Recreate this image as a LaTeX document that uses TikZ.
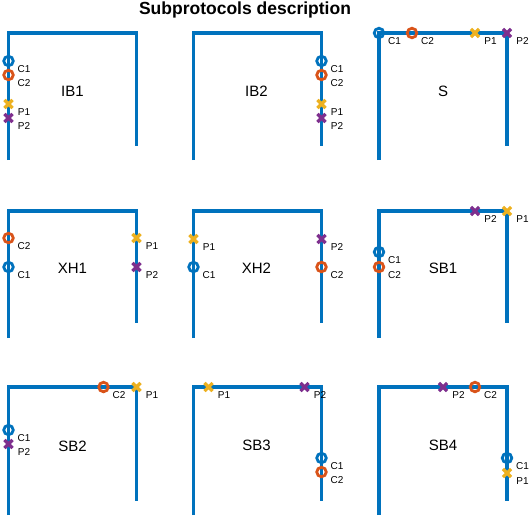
\documentclass[tikz,border=0pt]{standalone}
\usepackage{fontspec}
\setmainfont{Liberation Sans}
\usetikzlibrary{shapes.misc}

\definecolor{mblue}{RGB}{0,114,189}
\definecolor{morange}{RGB}{217,83,25}
\definecolor{myellow}{RGB}{237,177,32}
\definecolor{mpurple}{RGB}{126,47,142}

\tikzset{
  track/.style={draw=mblue, line width=3.2pt, line join=miter},
  ring/.style={circle, draw=#1, line width=2.8pt, minimum size=9.5pt, inner sep=0pt},
  xmark/.style={cross out, draw=#1, line width=3.2pt, minimum size=5pt, inner sep=0pt},
  tag/.style={label={[tagtext]center:#1}},
  tagtext/.style={font=\fontsize{10}{11}\selectfont, inner sep=0pt,
    xshift=15.5pt, yshift=-8pt},
  pname/.style={font=\fontsize{15}{17}\selectfont},
}

\begin{document}
\begin{tikzpicture}[x=1pt,y=-1pt]
  \useasboundingbox (0,0) rectangle (529,517);
  \node[font=\bfseries\fontsize{17.5}{20}\selectfont] (title) at (245,10) {Subprotocols description};

  % first row
  \begin{scope}[shift={(8.5,33)}]
    \draw[track] (0,127) -- (0,0) -- (128,0) -- (128,113);
    \node[pname] (ib1) at (64,58) {IB1};
    \node[ring=mblue, tag=C1] (ib1c1) at (0,28) {};
    \node[ring=morange, tag=C2] (ib1c2) at (0,42) {};
    \node[xmark=myellow, tag=P1] (ib1p1) at (0,71) {};
    \node[xmark=mpurple, tag=P2] (ib1p2) at (0,85) {};
  \end{scope}
  \begin{scope}[shift={(193.5,33)}]
    \draw[track] (0,127) -- (0,0) -- (128,0) -- (128,113);
    \node[pname] (ib2) at (63,58) {IB2};
    \node[ring=mblue, tag=C1] (ib2c1) at (128,28) {};
    \node[ring=morange, tag=C2] (ib2c2) at (128,42) {};
    \node[xmark=myellow, tag=P1] (ib2p1) at (128,71) {};
    \node[xmark=mpurple, tag=P2] (ib2p2) at (128,85) {};
  \end{scope}
  \begin{scope}[shift={(379,33)}]
    \draw[track] (0,127) -- (0,0) -- (128,0) -- (128,113);
    \node[pname] (s) at (64,58) {S};
    \node[ring=mblue, tag=C1] (sc1) at (0,0) {};
    \node[ring=morange, tag=C2] (sc2) at (33,0) {};
    \node[xmark=myellow, tag=P1] (sp1) at (96,0) {};
    \node[xmark=mpurple, tag=P2] (sp2) at (128,0) {};
  \end{scope}

  % second row
  \begin{scope}[shift={(8.5,211)}]
    \draw[track] (0,127) -- (0,0) -- (128,0) -- (128,112);
    \node[pname] (xh1) at (64,57) {XH1};
    \node[ring=morange, tag=C2] (xh1c2) at (0,27) {};
    \node[ring=mblue, tag=C1] (xh1c1) at (0,56) {};
    \node[xmark=myellow, tag=P1] (xh1p1) at (128,27) {};
    \node[xmark=mpurple, tag=P2] (xh1p2) at (128,56) {};
  \end{scope}
  \begin{scope}[shift={(193.5,211)}]
    \draw[track] (0,127) -- (0,0) -- (128,0) -- (128,112);
    \node[pname] (xh2) at (63,57) {XH2};
    \node[xmark=myellow, tag=P1] (xh2p1) at (0,28) {};
    \node[ring=mblue, tag=C1] (xh2c1) at (0,56) {};
    \node[xmark=mpurple, tag=P2] (xh2p2) at (128,28) {};
    \node[ring=morange, tag=C2] (xh2c2) at (128,56) {};
  \end{scope}
  \begin{scope}[shift={(379,211)}]
    \draw[track] (0,127) -- (0,0) -- (128,0) -- (128,112);
    \node[pname] (sb1) at (64,57) {SB1};
    \node[xmark=mpurple, tag=P2] (sb1p2) at (96,0) {};
    \node[xmark=myellow, tag=P1] (sb1p1) at (128,0) {};
    \node[ring=mblue, tag=C1] (sb1c1) at (0,41) {};
    \node[ring=morange, tag=C2] (sb1c2) at (0,56) {};
  \end{scope}

  % third row
  \begin{scope}[shift={(8.5,387)}]
    \draw[track] (0,128) -- (0,0) -- (128,0) -- (128,114);
    \node[pname] (sb2) at (64,59) {SB2};
    \node[ring=morange, tag=C2] (sb2c2) at (95,0) {};
    \node[xmark=myellow, tag=P1] (sb2p1) at (128,0) {};
    \node[ring=mblue, tag=C1] (sb2c1) at (0,43) {};
    \node[xmark=mpurple, tag=P2] (sb2p2) at (0,57) {};
  \end{scope}
  \begin{scope}[shift={(193.5,387)}]
    \draw[track] (0,128) -- (0,0) -- (128,0) -- (128,114);
    \node[pname] (sb3) at (63,58) {SB3};
    \node[xmark=myellow, tag=P1] (sb3p1) at (15,0) {};
    \node[xmark=mpurple, tag=P2] (sb3p2) at (111,0) {};
    \node[ring=mblue, tag=C1] (sb3c1) at (128,71) {};
    \node[ring=morange, tag=C2] (sb3c2) at (128,85) {};
  \end{scope}
  \begin{scope}[shift={(379,387)}]
    \draw[track] (0,128) -- (0,0) -- (128,0) -- (128,114);
    \node[pname] (sb4) at (64,58) {SB4};
    \node[xmark=mpurple, tag=P2] (sb4p2) at (64,0) {};
    \node[ring=morange, tag=C2] (sb4c2) at (96,0) {};
    \node[ring=mblue, tag=C1] (sb4c1) at (128,71) {};
    \node[xmark=myellow, tag=P1] (sb4p1) at (128,86) {};
  \end{scope}
\end{tikzpicture}
\end{document}
